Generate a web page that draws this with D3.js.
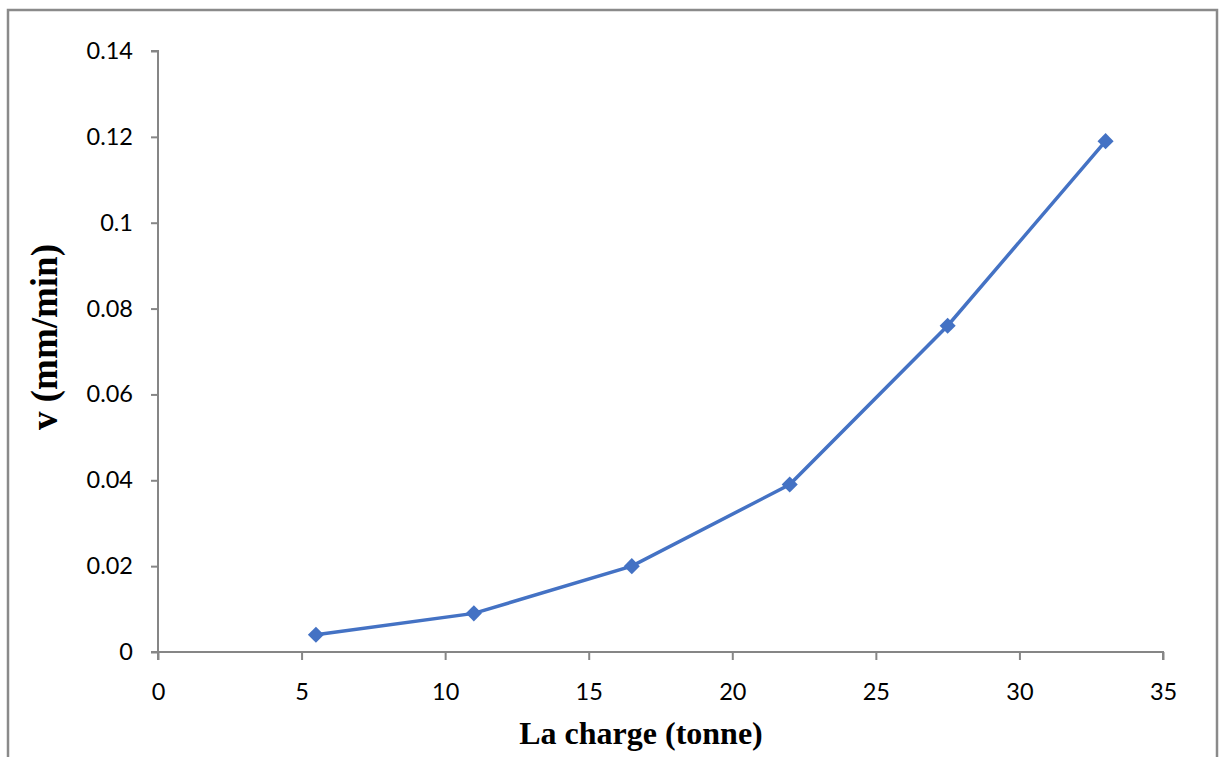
<!DOCTYPE html>
<html>
<head>
<meta charset="utf-8">
<script src="https://cdn.jsdelivr.net/npm/d3@7"></script>
<style>
  body { margin: 0; background: #fff; }
  svg { display: block; }
</style>
</head>
<body>
<svg id="chart"></svg>
<script>
var width = 1219, height = 757

// load (tonnes) and measured rate (mm/min)
var charge = [5.5, 11, 16.5, 22, 27.5, 33]
var vitesse = [0.004, 0.009, 0.020, 0.039, 0.076, 0.119]
var xTicks = [0, 5, 10, 15, 20, 25, 30, 35]
var yTicks = [0, 0.02, 0.04, 0.06, 0.08, 0.1, 0.12, 0.14]

var axisColor = "#868686"
var lineColor = "#4472C4"

var svg = d3.select("#chart")
    .attr("width", width)
    .attr("height", height)

// outer frame of the chart area
svg.append("rect")
    .attr("x", 8)
    .attr("y", 10)
    .attr("width", 1209)
    .attr("height", 800)
    .attr("fill", "none")
    .attr("stroke", "#8a8a8a")
    .attr("stroke-width", 2.5)

var x = d3.scaleLinear()
    .domain([0, 35])
    .range([158, 1163])

var y = d3.scaleLinear()
    .domain([0, 0.14])
    .range([652, 51])

var xAxis = svg.append("g")
    .attr("transform", "translate(0," + y(0) + ")")
    .call(d3.axisBottom(x).tickValues(xTicks).tickSize(8).tickPadding(23).tickFormat(d3.format("d")))

var yAxis = svg.append("g")
    .attr("transform", "translate(" + x(0) + ",0)")
    .call(d3.axisLeft(y).tickValues(yTicks).tickSize(7).tickPadding(18).tickFormat(function(d) { return d === 0 ? "0" : String(+d.toFixed(2)) }))

svg.selectAll(".domain")
    .attr("stroke", axisColor)
    .attr("stroke-width", 2)
svg.selectAll(".tick line")
    .attr("stroke", axisColor)
    .attr("stroke-width", 2)
svg.selectAll(".tick text")
    .attr("fill", "#000")
    .style("font-family", "Lato, 'Open Sans', sans-serif")
    .style("font-size", "23.5px")

// axis outer ticks removed, domain straight line only
xAxis.select(".domain").attr("d", "M" + (x(0) - 7) + ",0H" + x(35) + "V8")
yAxis.select(".domain").attr("d", "M-7," + y(0.14) + "H0V" + (y(0) + 8))

var line = d3.line()
    .x(function(d) { return x(d[0]) })
    .y(function(d) { return y(d[1]) })

var pts = d3.zip(charge, vitesse)

svg.append("path")
    .datum(pts)
    .attr("d", line)
    .attr("fill", "none")
    .attr("stroke", lineColor)
    .attr("stroke-width", 3.5)

svg.selectAll(".pt")
    .data(pts)
    .enter()
    .append("path")
        .attr("class", "pt")
        .attr("d", d3.symbol().type(d3.symbolDiamond2).size(165))
        .attr("transform", function(d) { return "translate(" + x(d[0]) + "," + y(d[1]) + ")" })
        .attr("fill", lineColor)

svg.append("text")
    .attr("x", 641)
    .attr("y", 744)
    .attr("text-anchor", "middle")
    .style("font-family", "'Liberation Serif', 'Times New Roman', serif")
    .style("font-weight", "bold")
    .style("font-size", "32px")
    .text("La charge (tonne)")

svg.append("text")
    .attr("transform", "translate(57,337) rotate(-90)")
    .attr("text-anchor", "middle")
    .style("font-family", "'Liberation Serif', 'Times New Roman', serif")
    .style("font-weight", "bold")
    .style("font-size", "37px")
    .text("v (mm/min)")
</script>
</body>
</html>
